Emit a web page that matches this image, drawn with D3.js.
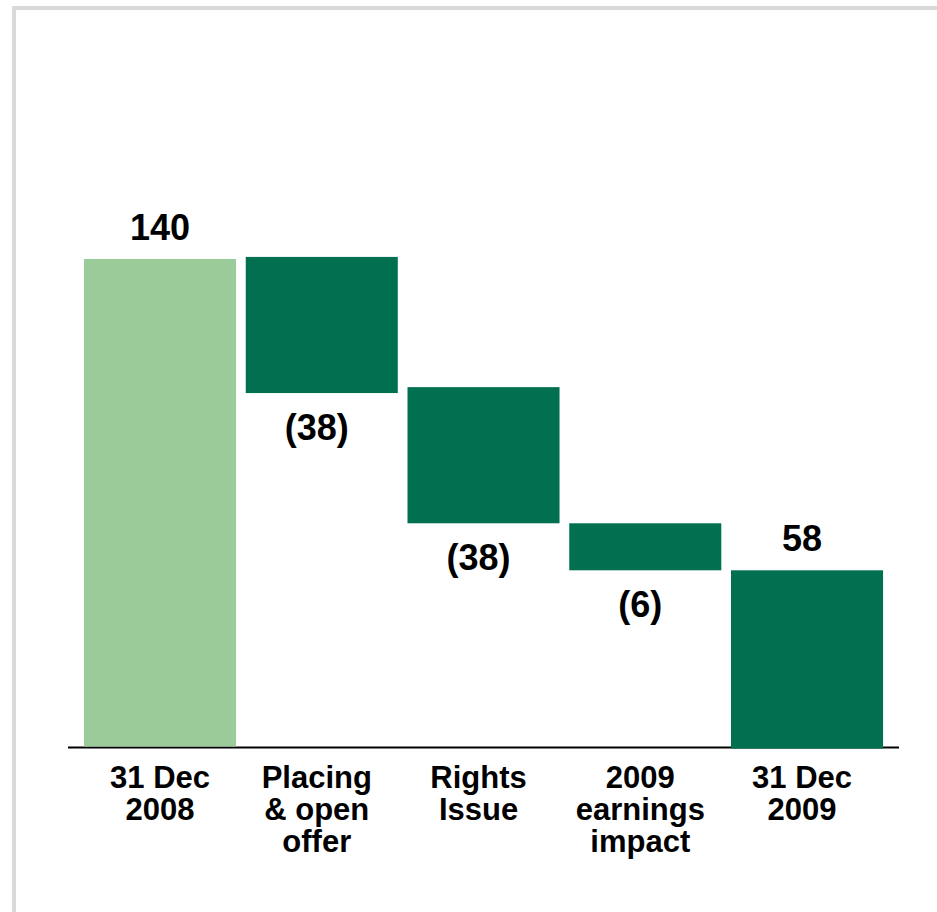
<!DOCTYPE html>
<html>
<head>
<meta charset="utf-8">
<script src="https://cdn.jsdelivr.net/npm/d3@7"></script>
<style>
  html, body { margin: 0; padding: 0; background: #ffffff; }
  svg { display: block; }
  text { font-family: "Liberation Sans", Arial, sans-serif; font-weight: bold; fill: #000; }
</style>
</head>
<body>
<script>
// ---- data ----
const categories = ["31 Dec 2008", "Placing & open offer", "Rights Issue", "2009 earnings impact", "31 Dec 2009"];
const categoryLines = [["31 Dec", "2008"], ["Placing", "& open", "offer"], ["Rights", "Issue"], ["2009", "earnings", "impact"], ["31 Dec", "2009"]];
const values = [140, -38, -38, -6, 58];
const valueLabels = ["140", "(38)", "(38)", "(6)", "58"];
// bar extents as drawn in the picture (chart units)
const barTop = [140, 140.6, 103.2, 64.1, 50.6];
const barBottom = [0, 101.5, 64.1, 50.6, -0.6];
const barKind = ["total", "delta", "delta", "delta", "total-end"];

const W = 937, H = 912;
const svg = d3.select("body").append("svg").attr("width", W).attr("height", H);

// frame
svg.append("rect")
  .attr("x", 14).attr("y", 8).attr("width", 1000).attr("height", 1000)
  .attr("fill", "none").attr("stroke", "#d9d9d9").attr("stroke-width", 4);

const x = d3.scaleBand().domain(categories).range([79.15, 887.9]).paddingInner(0.06).paddingOuter(0.03);
const y = d3.scaleLinear().domain([0, 140]).range([746.5, 259]);

const colorFor = (i) => barKind[i] === "total" ? "#9BCB98" : "#007050";

// axis baseline
svg.append("line")
  .attr("x1", 68).attr("x2", 899)
  .attr("y1", y(0) + 1).attr("y2", y(0) + 1)
  .attr("stroke", "#000").attr("stroke-width", 2);

// bars
svg.selectAll("rect.bar").data(categories).join("rect")
  .attr("class", "bar")
  .attr("x", d => x(d))
  .attr("width", x.bandwidth())
  .attr("y", (d, i) => y(barTop[i]))
  .attr("height", (d, i) => y(barBottom[i]) - y(barTop[i]))
  .attr("fill", (d, i) => colorFor(i));

const cx = (d, i) => x(d) + x.bandwidth() / 2 - (i === 0 ? 0 : 5);

// value labels
svg.selectAll("text.val").data(categories).join("text")
  .attr("class", "val")
  .attr("x", (d, i) => cx(d, i))
  .attr("y", (d, i) => values[i] >= 0 ? y(barTop[i]) - 19 : y(barBottom[i]) + 47)
  .attr("text-anchor", "middle")
  .style("font-size", "36px")
  .text((d, i) => valueLabels[i]);

// category labels
const cat = svg.selectAll("text.cat").data(categories).join("text")
  .attr("class", "cat")
  .attr("text-anchor", "middle")
  .style("font-size", "31px")
  .attr("transform", (d, i) => `translate(${cx(d, i)},788)`);
cat.selectAll("tspan").data((d, i) => categoryLines[i]).join("tspan")
  .attr("x", 0)
  .attr("y", (d, j) => j * 32)
  .text(d => d);
</script>
</body>
</html>
